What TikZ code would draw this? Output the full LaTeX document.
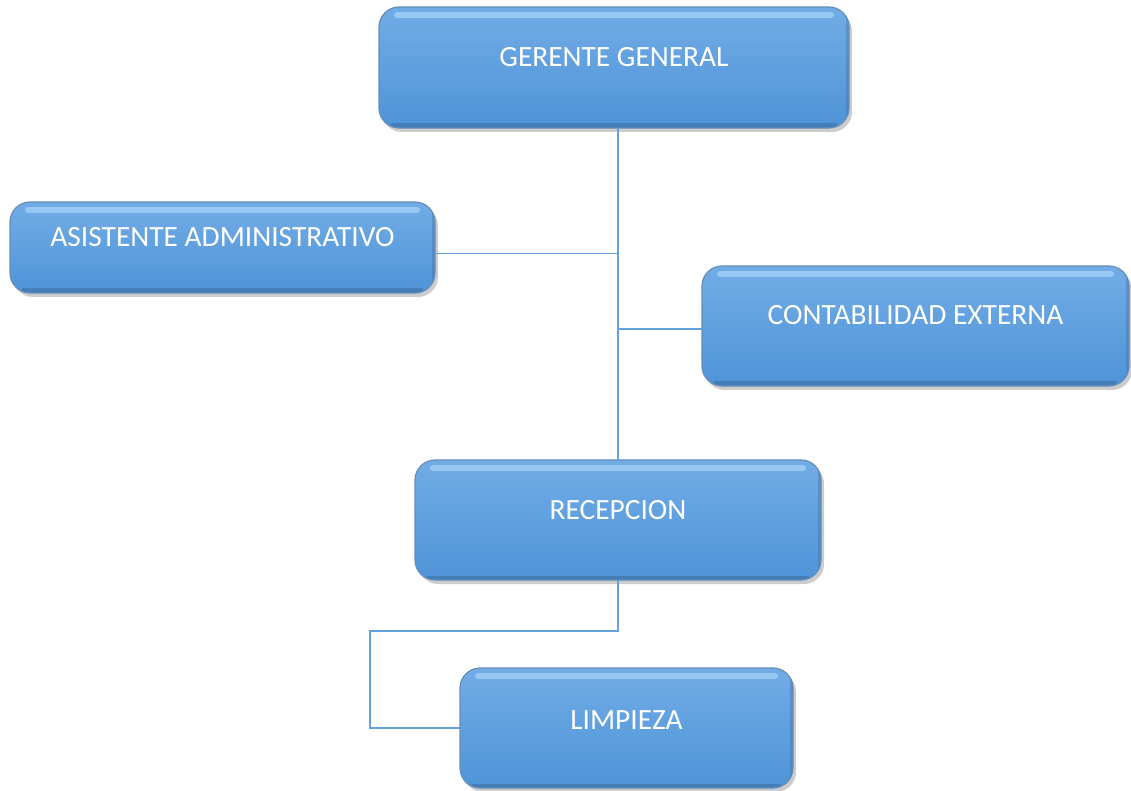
\documentclass[tikz,border=0pt]{standalone}
\usepackage{fontspec}
\setmainfont{Carlito}
\usepackage{xcolor}
\usetikzlibrary{shadows}

\definecolor{cajaarriba}{RGB}{114,172,230}
\definecolor{cajamedio}{RGB}{92,160,226}
\definecolor{cajaabajo}{RGB}{78,148,216}
\definecolor{cajaborde}{RGB}{62,112,165}
\definecolor{brillo}{RGB}{190,232,255}
\definecolor{linea}{RGB}{100,160,220}

\begin{document}
\begin{tikzpicture}[
    x=0.5pt, y=-0.5pt,
    box/.style={
        rounded corners=10pt,
        align=center,
        text=white,
        font=\fontsize{14.7}{17}\selectfont,
        top color=cajaarriba,
        middle color=cajamedio,
        bottom color=cajaabajo,
        draw=cajaborde!80,
        line width=0.6pt,
        outer sep=0pt,
        text height=9pt,
        text depth=10pt,
        drop shadow={shadow xshift=1.5pt, shadow yshift=-2pt, opacity=0.4},
        path picture={
            \draw[brillo, line width=3pt, opacity=0.5, line cap=round]
                ([xshift=9pt,yshift=-4pt]path picture bounding box.north west)
                -- ([xshift=-9pt,yshift=-4pt]path picture bounding box.north east);
            \draw[cajaborde, line width=2.5pt, opacity=0.6]
                ([xshift=6pt,yshift=1pt]path picture bounding box.south west)
                -- ([xshift=-6pt,yshift=1pt]path picture bounding box.south east);
            \draw[cajaborde, line width=2pt, opacity=0.4]
                ([xshift=-0.5pt,yshift=-6pt]path picture bounding box.north east)
                -- ([xshift=-0.5pt,yshift=6pt]path picture bounding box.south east);
        }
    },
    conector/.style={draw=linea, line width=0.8pt}
]
\useasboundingbox (0,0) rectangle (1131,791);

\node[box, minimum width=235pt, minimum height=60.5pt] (gerente) at (614,67.5) {GERENTE GENERAL};
\node[box, minimum width=212.5pt, minimum height=45.5pt] (asistente) at (222.5,247.5) {ASISTENTE ADMINISTRATIVO};
\node[box, minimum width=213.5pt, minimum height=60pt] (contabilidad) at (915.5,326) {CONTABILIDAD EXTERNA};
\node[box, minimum width=203pt, minimum height=60pt] (recepcion) at (618,520) {RECEPCION};
\node[box, minimum width=166.5pt, minimum height=60pt, text depth=8pt] (limpieza) at (626.5,728) {LIMPIEZA};

\coordinate (codo) at (370,631);

\draw[conector] (recepcion.north) -- (recepcion.north |- gerente.south);
\draw[conector] ([yshift=-3pt]asistente.east) -- ([yshift=-3pt]asistente.east -| recepcion.north);
\draw[conector] ([yshift=-1.5pt]contabilidad.west -| recepcion.north) -- ([yshift=-1.5pt]contabilidad.west);
\draw[conector] (recepcion.south) |- (codo) |- (limpieza.west);
\end{tikzpicture}
\end{document}
